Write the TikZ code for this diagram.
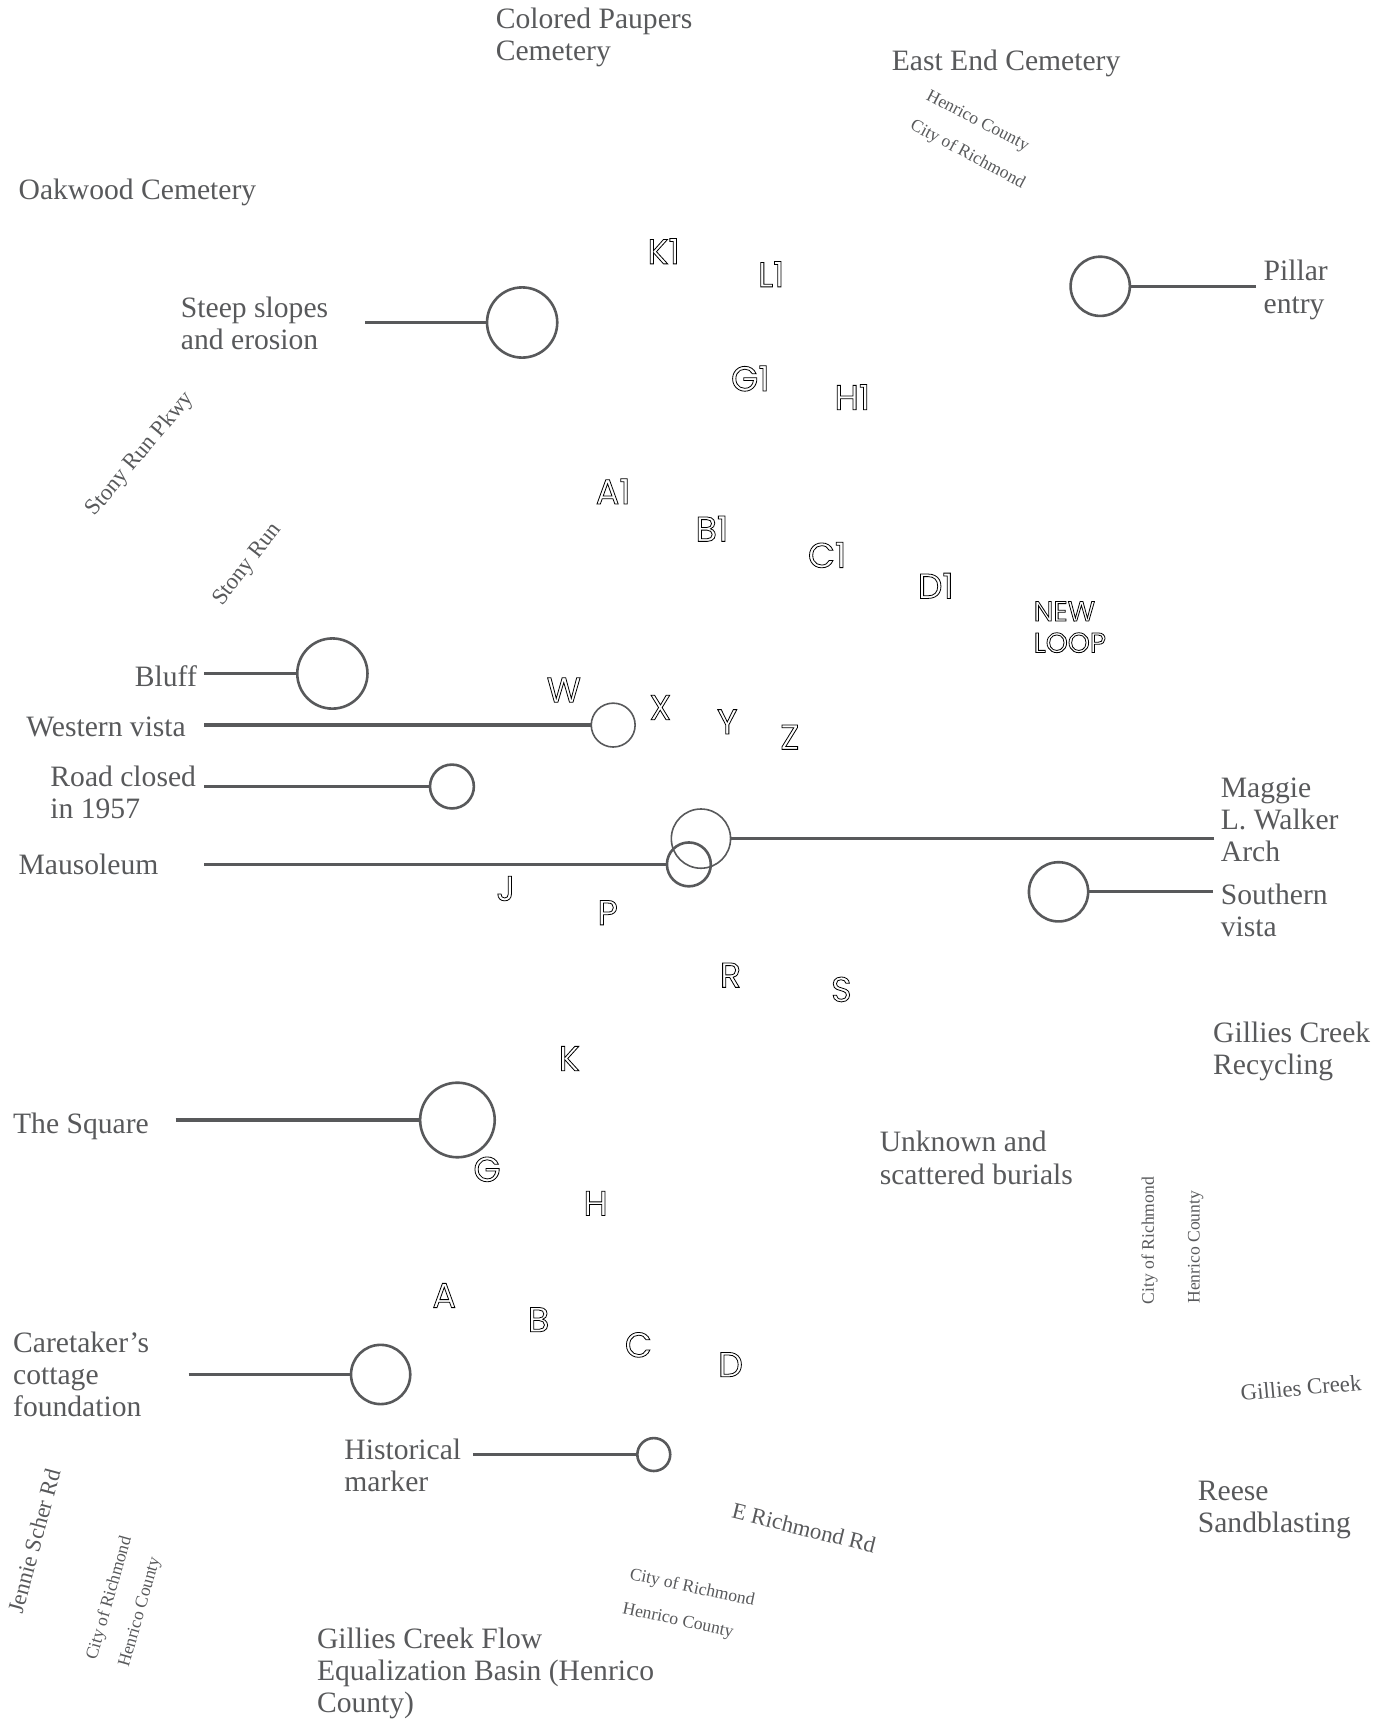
\documentclass[tikz,border=0pt]{standalone}
\usepackage{fontspec}
\setmainfont{Liberation Serif}
\newfontfamily\outfam{Poppins}
\definecolor{ink}{HTML}{58595B}
\newcommand{\outl}[1]{\special{pdf:code 1 Tr 0.4 w}#1\special{pdf:code 0 Tr}}
\tikzset{
 lab/.style={text=ink,inner sep=0pt,outer sep=0pt,align=left,anchor=base west,yshift=-0.8pt,font=\fontsize{14.8}{16.07}\selectfont},
 small/.style={text=ink,inner sep=0pt,font=\fontsize{8.8}{10}\selectfont},
 road/.style={text=ink,inner sep=0pt,font=\fontsize{11.4}{13}\selectfont},
 sec/.style={text=black,draw=none,inner sep=0pt,align=left,font=\outfam\fontsize{17.5}{18}\selectfont},
 secb/.style={text=black,draw=none,inner sep=0pt,align=left,font=\outfam\fontsize{14}{15.7}\selectfont},
 ring/.style={circle,draw=ink,line width=1.3pt,inner sep=0pt,outer sep=0pt,minimum size=#1*0.54847pt},
 thinring/.style={circle,draw=ink,line width=0.8pt,inner sep=0pt,outer sep=0pt,minimum size=#1*0.54847pt},
 lead/.style={draw=ink,line width=1.6pt}
}
\begin{document}
\begin{tikzpicture}[x=0.54847pt,y=-0.54847pt]
\useasboundingbox (0,0) rectangle (1259.9,1568);
% text labels (coordinates: last line baseline)
\node[lab] (t1) at (452,54) {Colored Paupers\\Cemetery};
\node[lab] (t2) at (813,63) {East End Cemetery};
\node[lab] (t3) at (17,180) {Oakwood Cemetery};
\node[lab] (t4) at (165,317) {Steep slopes\\and erosion};
\node[lab] (t5) at (1152,284) {Pillar\\entry};
\node[lab] (t6) at (123,624) {Bluff};
\node[lab] (t7) at (24,670) {Western vista};
\node[lab] (t8) at (46,745) {Road closed\\in 1957};
\node[lab] (t9) at (17,796) {Mausoleum};
\node[lab] (t10) at (1113,784) {Maggie\\L. Walker\\Arch};
\node[lab] (t11) at (1113,852) {Southern\\vista};
\node[lab] (t12) at (1106,978) {Gillies Creek\\Recycling};
\node[lab] (t13) at (802,1078) {Unknown and\\scattered burials};
\node[lab] (t14) at (12,1032) {The Square};
\node[lab] (t15) at (12,1290) {Caretaker’s\\cottage\\foundation};
\node[lab] (t16) at (314,1358) {Historical\\marker};
\node[lab] (t17) at (1092,1396) {Reese\\Sandblasting};
\node[lab] (t18) at (289,1560) {Gillies Creek Flow\\Equalization Basin (Henrico\\County)};
% rotated small labels
\node[small,rotate=-27.5] (s1) at (891,111) {Henrico County};
\node[small,rotate=-28] (s2) at (882,141) {City of Richmond};
\node[small,rotate=90] (s3) at (1048,1131) {City of Richmond};
\node[small,rotate=90] (s4) at (1090,1137) {Henrico County};
\node[small,rotate=-12] (s5) at (631,1448) {City of Richmond};
\node[small,rotate=-12] (s6) at (618,1478) {Henrico County};
\node[small,rotate=74] (s7) at (100,1457) {City of Richmond};
\node[small,rotate=74] (s8) at (128,1470) {Henrico County};
\node[road,rotate=50] (r1) at (128,414) {Stony Run Pkwy};
\node[road,rotate=52] (r2) at (226,515) {Stony Run};
\node[road,rotate=5] (r3) at (1186,1265) {Gillies Creek};
\node[road,rotate=-14] (r4) at (733,1393) {E Richmond Rd};
\node[road,rotate=75] (r5) at (31,1405) {Jennie Scher Rd};
% section letters
\foreach \n/\x/\y/\t in {a/605/229/K1,b/703/250/L1,c/684/345/G1,d/777/362/H1,e/559/448/A1,f/649/482/B1,g/754/506/C1,h/853/534/D1,
 i/514/629/W,j/602/645/X,k/663/658/Y,l/720/672/Z,m/461/810/J,n/554/832/P,o/666/889/R,p/767/902/S,q/519/965/K,r/444/1066/G,u/543/1097/H,v/405/1181/A,w/491/1203/B,x/582/1226/C,y/666/1244/D}
 \node[sec] (sec\n) at (\x,\y) {\outl{\t}};
\node[secb,anchor=north west] (secnew) at (942,548) {\outl{NEW}\\\outl{LOOP}};
% rings and leaders
\node[ring=64] (c1) at (476,294) {};
\node[ring=54] (c2) at (1003,261) {};
\node[ring=64] (c3) at (303,614) {};
\node[thinring=40] (c4) at (559,661) {};
\node[ring=40] (c5) at (412,717) {};
\node[thinring=54] (c6) at (639,764.5) {};
\node[ring=40] (c7) at (628,788) {};
\node[ring=54] (c8) at (965,813) {};
\node[ring=68] (c9) at (417,1021) {};
\node[ring=54] (c10) at (347,1253) {};
\node[ring=30] (c11) at (596,1326) {};
\coordinate (e1) at (333,294);
\coordinate (e2) at (1145,261);
\coordinate (e3) at (186,614);
\coordinate (e4) at (186,661);
\coordinate (e5) at (186,717);
\coordinate (e6) at (1107,764.5);
\coordinate (e7) at (186,788);
\coordinate (e8) at (1106,813);
\coordinate (e9) at (160,1021);
\coordinate (e10) at (172,1253);
\coordinate (e11) at (431,1326);
\foreach \i in {1,...,11} \draw[lead] (e\i) -- (c\i);
\end{tikzpicture}
\end{document}
